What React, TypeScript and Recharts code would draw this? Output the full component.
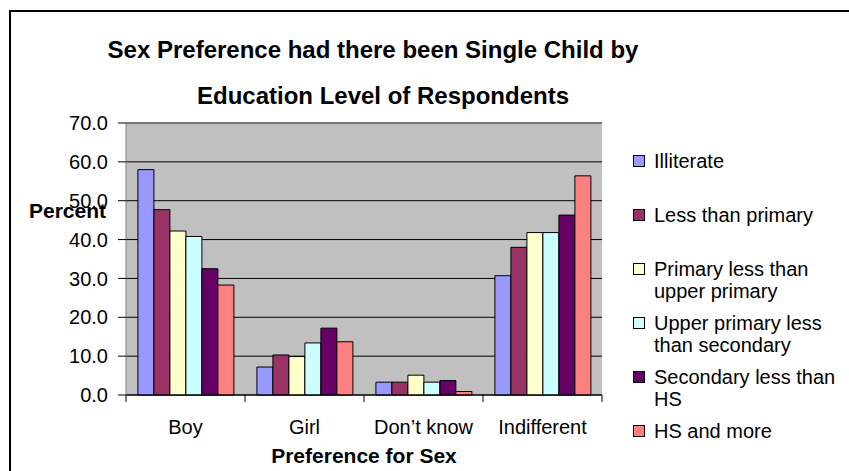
import React from 'react';
import { BarChart, Bar, XAxis, YAxis, CartesianGrid, ReferenceLine } from 'recharts';

const categories = ['Boy', 'Girl', 'Don\u2019t know', 'Indifferent'];
const seriesNames = [
  'Illiterate',
  'Less than primary',
  'Primary less than upper primary',
  'Upper primary less than secondary',
  'Secondary less than HS',
  'HS and more',
];
const seriesColors = ['#9999FF', '#993366', '#FFFFCC', '#CCFFFF', '#660066', '#FF8080'];
const illiterate = [58.0, 7.2, 3.3, 30.7];
const lessThanPrimary = [47.7, 10.3, 3.3, 38.0];
const primaryLessThanUpperPrimary = [42.2, 9.9, 5.1, 41.8];
const upperPrimaryLessThanSecondary = [40.8, 13.4, 3.3, 41.8];
const secondaryLessThanHS = [32.5, 17.2, 3.7, 46.3];
const hsAndMore = [28.3, 13.7, 0.9, 56.4];
const seriesValues = [
  illiterate,
  lessThanPrimary,
  primaryLessThanUpperPrimary,
  upperPrimaryLessThanSecondary,
  secondaryLessThanHS,
  hsAndMore,
];
const yTicks = [0, 10, 20, 30, 40, 50, 60, 70];

const titleLine1 = 'Sex Preference had there been Single Child by';
const titleLine2 = 'Education Level of Respondents';
const yAxisTitle = 'Percent';
const xAxisTitle = 'Preference for Sex';

const data = categories.map((name, i) => {
  const row: Record<string, any> = { name };
  seriesNames.forEach((s, j) => {
    row['s' + j] = seriesValues[j][i];
  });
  return row;
});

const FONT = '"Liberation Sans", Arial, sans-serif';

const CategoryTick = (props: any) => {
  const { x, y, payload, index, visibleTicksCount, width } = props;
  const half = payload && typeof payload.offset === 'number' && payload.offset > 0
    ? payload.offset
    : width / (visibleTicksCount || 4) / 2;
  const last = index === (visibleTicksCount || categories.length) - 1;
  return (
    <g>
      <line x1={x - half} y1={y} x2={x - half} y2={y + 7} stroke="#000" strokeWidth={1} />
      {last && <line x1={x + half} y1={y} x2={x + half} y2={y + 7} stroke="#000" strokeWidth={1} />}
      <text x={x} y={y + 39} textAnchor="middle" fontSize={20} fill="#000" fontFamily={FONT}>
        {payload.value}
      </text>
    </g>
  );
};

export default function App() {
  return (
    <div
      style={{
        position: 'absolute',
        left: 0,
        top: 0,
        width: 849,
        height: 471,
        overflow: 'hidden',
        background: '#fff',
        fontFamily: FONT,
        color: '#000',
      }}
    >
      <div
        style={{
          position: 'absolute',
          left: 9,
          top: 10,
          width: 900,
          height: 500,
          borderLeft: '2px solid #000',
          borderTop: '2px solid #000',
        }}
      />
      <div
        style={{
          position: 'absolute',
          left: 0,
          width: 746,
          top: 38,
          fontSize: 24,
          lineHeight: '24px',
          fontWeight: 'bold',
          textAlign: 'center',
          whiteSpace: 'nowrap',
        }}
      >
        {titleLine1}
      </div>
      <div
        style={{
          position: 'absolute',
          left: 0,
          width: 766,
          top: 84,
          fontSize: 24,
          lineHeight: '24px',
          fontWeight: 'bold',
          textAlign: 'center',
          whiteSpace: 'nowrap',
        }}
      >
        {titleLine2}
      </div>
      <div style={{ position: 'absolute' , left: 0, top: 0 }}>
        <BarChart
          width={849}
          height={471}
          data={data}
          margin={{ top: 123, right: 247, bottom: 36, left: 66 }}
          barCategoryGap="10%"
          barGap={0}
        >
          <CartesianGrid
            yAxisId="left"
            vertical={false}
            stroke="#000"
            fill="#C0C0C0"
            fillOpacity={1}
          />
          <XAxis
            dataKey="name"
            height={40}
            tickLine={false}
            tickSize={0}
            tickMargin={0}
            axisLine={{ stroke: '#000' }}
            tick={<CategoryTick />}
            interval={0}
          />
          <YAxis
            yAxisId="left"
            width={60}
            domain={[0, 70]}
            ticks={yTicks}
            tickFormatter={(v: number) => v.toFixed(1)}
            tick={{ fill: '#000', fontSize: 20, fontFamily: FONT }}
            tickLine={{ stroke: '#000' }}
            tickSize={8}
            tickMargin={10}
            axisLine={{ stroke: '#808080' }}
            interval={0}
          />
          <YAxis
            yAxisId="right"
            orientation="right"
            width={0}
            domain={[0, 70]}
            tick={false}
            tickLine={false}
            axisLine={{ stroke: '#808080' }}
          />
          <ReferenceLine yAxisId="left" y={70} stroke="#808080" />
          {seriesNames.map((s, j) => (
            <Bar
              key={s}
              yAxisId="left"
              dataKey={'s' + j}
              name={s}
              fill={seriesColors[j]}
              stroke="#000"
              strokeWidth={1}
              isAnimationActive={false}
            />
          ))}
        </BarChart>
      </div>
      <div
        style={{
          position: 'absolute',
          left: 29,
          top: 200,
          fontSize: 21,
          lineHeight: '21px',
          fontWeight: 'bold',
          whiteSpace: 'nowrap',
        }}
      >
        {yAxisTitle}
      </div>
      <div
        style={{
          position: 'absolute',
          left: 126,
          width: 476,
          top: 445,
          fontSize: 21,
          lineHeight: '21px',
          fontWeight: 'bold',
          textAlign: 'center',
          whiteSpace: 'nowrap',
        }}
      >
        {xAxisTitle}
      </div>
      <div style={{ position: 'absolute', left: 633, top: 150 }}>
        {seriesNames.map((s, j) => (
          <div key={s} style={{ position: 'relative', height: 54 }}>
            <div
              style={{
                position: 'absolute',
                left: 0,
                top: 5,
                width: 10,
                height: 10,
                border: '1px solid #000',
                background: seriesColors[j],
              }}
            />
            <div
              style={{
                position: 'absolute',
                left: 21,
                top: 0,
                width: 192,
                fontSize: 20,
                lineHeight: '22px',
              }}
            >
              {s}
            </div>
          </div>
        ))}
      </div>
    </div>
  );
}
